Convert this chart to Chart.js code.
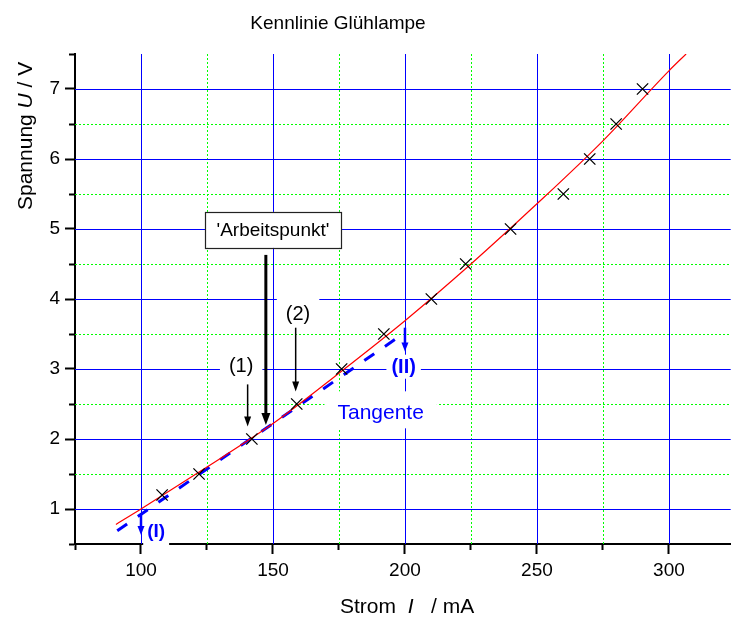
<!DOCTYPE html>
<html>
<head>
<meta charset="utf-8">
<title>Kennlinie Glühlampe</title>
<script src="https://cdn.jsdelivr.net/npm/chart.js@4.4.1/dist/chart.umd.min.js"></script>
<style>
  html, body { margin: 0; padding: 0; background: #fff; }
  #wrap { width: 740px; height: 617px; }
</style>
</head>
<body>
<div id="wrap"><canvas id="chart" width="740" height="617"></canvas></div>
<script>
// Messwerte: Strom I in mA, Spannung U in V
const stromMess = [108, 122, 142, 159, 176, 192, 210, 223, 240, 260, 270, 280, 290];
const spannungMess = [1.2, 1.5, 2.0, 2.5, 3.0, 3.5, 4.0, 4.5, 5.0, 5.5, 6.0, 6.5, 7.0];

// Ausgleichskurve (rot)
const stromFit = [90.5, 100, 125, 150, 175, 200, 225, 250, 275, 300, 306.5];
const spannungFit = [0.78, 1.0, 1.6, 2.22, 2.94, 3.69, 4.5, 5.36, 6.26, 7.26, 7.5];

// Tangente im Arbeitspunkt (blau gestrichelt)
const stromTangente = [91, 200];
const spannungTangente = [0.69, 3.52];

// Achsen
const xTickLabels = [100, 150, 200, 250, 300];
const yTickLabels = [1, 2, 3, 4, 5, 6, 7];
const X_MIN = 75, X_MAX = 323.4;
const Y_MIN = 0.5, Y_MAX = 7.5;

const BLUE = '#0000ff';
const GREEN = '#00ff00';
const FONT = '"Liberation Sans", Arial, sans-serif';

// Annotationen in Datenkoordinaten
const pfeile = [
  { x: 147.3, von: 4.63, bis: 2.20, farbe: '#000', breite: 3, spitze: 12, halb: 4.5 }, // Arbeitspunkt
  { x: 140.4, von: 2.78, bis: 2.18, farbe: '#000', breite: 1.5, spitze: 10, halb: 3.5 }, // (1)
  { x: 158.6, von: 3.59, bis: 2.68, farbe: '#000', breite: 1.5, spitze: 10, halb: 3.5 }, // (2)
  { x: 100, von: 0.93, bis: 0.63, farbe: BLUE, breite: 2.5, spitze: 9, halb: 3.5 },      // (I)
  { x: 200, von: 3.59, bis: 3.25, farbe: BLUE, breite: 2.5, spitze: 9, halb: 3.5 }       // (II)
];

const beschriftungen = [
  { text: '(1)', x: 137.95, y: 2.961, size: 20, bold: false, farbe: '#000', padX: 9, up: 20, down: 6 },
  { text: '(2)', x: 159.5, y: 3.707, size: 20, bold: false, farbe: '#000', padX: 9, up: 22, down: 6 },
  { text: '(II)', x: 199.5, y: 2.947, size: 20, bold: true, farbe: BLUE, padX: 5, up: 18, down: 6 },
  { text: '(I)', x: 105.75, y: 0.604, size: 19, bold: true, farbe: BLUE, padX: 4, up: 16, down: 9 },
  { text: 'Tangente', x: 190.8, y: 2.281, size: 21, bold: false, farbe: BLUE, padX: 13, up: 28, down: 9 }
];

const arbeitspunkt = { text: "'Arbeitspunkt'", x: 150.0, y: 4.90, size: 19, links: 124.3, rechts: 175.9, oben: 5.244, unten: 4.73 };

function font(size, opts) {
  opts = opts || {};
  return (opts.italic ? 'italic ' : '') + (opts.bold ? 'bold ' : '') + size + 'px ' + FONT;
}

function drawRuns(ctx, runs, x, y, size) {
  runs.forEach(r => {
    ctx.font = font(size, { italic: r.italic });
    ctx.fillText(r.t, x, y);
    x += ctx.measureText(r.t).width;
  });
}

// Gitter: blaue Hauptlinien, gruen gepunktete Zwischenlinien
const gitterPlugin = {
  id: 'gitter',
  beforeDatasetsDraw(chart) {
    const ctx = chart.ctx;
    const a = chart.chartArea;
    const sx = chart.scales.x, sy = chart.scales.y;
    ctx.save();
    ctx.lineWidth = 1;
    sx.ticks.forEach(t => {
      if (t.value <= X_MIN || t.value >= X_MAX) return;
      const major = xTickLabels.includes(t.value);
      const p = Math.round(sx.getPixelForValue(t.value)) + 0.5;
      ctx.strokeStyle = major ? BLUE : GREEN;
      ctx.setLineDash(major ? [] : [2, 2]);
      ctx.beginPath();
      ctx.moveTo(p, a.top);
      ctx.lineTo(p, a.bottom);
      ctx.stroke();
    });
    sy.ticks.forEach(t => {
      if (t.value <= Y_MIN || t.value >= Y_MAX) return;
      const major = yTickLabels.includes(t.value);
      const p = Math.round(sy.getPixelForValue(t.value)) + 0.5;
      ctx.strokeStyle = major ? BLUE : GREEN;
      ctx.setLineDash(major ? [] : [2, 2]);
      ctx.beginPath();
      ctx.moveTo(a.left, p);
      ctx.lineTo(a.right, p);
      ctx.stroke();
    });
    ctx.restore();
  }
};

const annotationPlugin = {
  id: 'kennlinieAnnotationen',
  afterDatasetsDraw(chart) {
    const ctx = chart.ctx;
    const X = v => chart.scales.x.getPixelForValue(v);
    const Y = v => chart.scales.y.getPixelForValue(v);
    ctx.save();

    // weisse Hintergruende der Beschriftungen
    ctx.fillStyle = '#fff';
    beschriftungen.forEach(b => {
      ctx.font = font(b.size, { bold: b.bold });
      const w = ctx.measureText(b.text).width;
      const cx = X(b.x), by = Y(b.y);
      ctx.fillRect(cx - w / 2 - b.padX, by - b.up, w + 2 * b.padX, b.up + b.down);
    });

    // Kasten 'Arbeitspunkt'
    const l = X(arbeitspunkt.links), r = X(arbeitspunkt.rechts);
    const t = Y(arbeitspunkt.oben), u = Y(arbeitspunkt.unten);
    ctx.fillStyle = '#fff';
    ctx.fillRect(l, t, r - l, u - t);
    ctx.strokeStyle = '#222';
    ctx.lineWidth = 1.2;
    ctx.strokeRect(Math.round(l) + 0.5, Math.round(t) + 0.5, Math.round(r - l), Math.round(u - t));
    ctx.fillStyle = '#000';
    ctx.font = font(arbeitspunkt.size);
    ctx.textAlign = 'center';
    ctx.textBaseline = 'alphabetic';
    ctx.fillText(arbeitspunkt.text, X(arbeitspunkt.x), Y(arbeitspunkt.y));

    // Pfeile
    pfeile.forEach(p => {
      const px = X(p.x), y1 = Y(p.von), y2 = Y(p.bis);
      ctx.strokeStyle = p.farbe;
      ctx.fillStyle = p.farbe;
      ctx.lineWidth = p.breite;
      ctx.beginPath();
      ctx.moveTo(px, y1);
      ctx.lineTo(px, y2 - p.spitze + 1);
      ctx.stroke();
      ctx.beginPath();
      ctx.moveTo(px, y2);
      ctx.lineTo(px - p.halb, y2 - p.spitze);
      ctx.lineTo(px + p.halb, y2 - p.spitze);
      ctx.closePath();
      ctx.fill();
    });

    // Texte
    beschriftungen.forEach(b => {
      ctx.font = font(b.size, { bold: b.bold });
      ctx.fillStyle = b.farbe;
      ctx.textAlign = 'center';
      ctx.fillText(b.text, X(b.x), Y(b.y));
    });

    // Titel
    ctx.fillStyle = '#000';
    ctx.textAlign = 'center';
    ctx.font = font(19);
    ctx.fillText('Kennlinie Glühlampe', 338, 29);

    // Achsentitel x
    ctx.textAlign = 'left';
    drawRuns(ctx, [{ t: 'Strom  ' }, { t: 'I', italic: true }, { t: '   / mA' }], 340, 613, 21);

    // Achsentitel y (gedreht)
    ctx.save();
    ctx.translate(32, 210);
    ctx.rotate(-Math.PI / 2);
    drawRuns(ctx, [{ t: 'Spannung ' }, { t: 'U', italic: true }, { t: ' / V' }], 0, 0, 21);
    ctx.restore();

    ctx.restore();
  }
};

const toPoints = (xs, ys) => xs.map((v, i) => ({ x: v, y: ys[i] }));

new Chart(document.getElementById('chart'), {
  type: 'scatter',
  data: {
    datasets: [
      {
        label: 'Messwerte',
        data: toPoints(stromMess, spannungMess),
        pointStyle: 'crossRot',
        pointRadius: 8,
        borderColor: '#000',
        backgroundColor: '#000',
        borderWidth: 1.3,
        order: 0
      },
      {
        label: 'Ausgleichskurve',
        data: toPoints(stromFit, spannungFit),
        showLine: true,
        cubicInterpolationMode: 'monotone',
        borderColor: '#ff0000',
        borderWidth: 1.2,
        pointRadius: 0,
        order: 1
      },
      {
        label: 'Tangente',
        data: toPoints(stromTangente, spannungTangente),
        showLine: true,
        borderColor: BLUE,
        borderWidth: 3,
        borderDash: [12, 13],
        pointRadius: 0,
        order: 2
      }
    ]
  },
  options: {
    responsive: false,
    animation: false,
    devicePixelRatio: 1,
    layout: { padding: { top: 54, left: 0, right: 0, bottom: 0 } },
    plugins: { legend: { display: false }, tooltip: { enabled: false }, title: { display: false } },
    scales: {
      x: {
        type: 'linear',
        min: X_MIN,
        max: X_MAX,
        afterFit: s => { s.height = 73; },
        ticks: {
          stepSize: 25,
          includeBounds: false,
          autoSkip: false,
          maxRotation: 0,
          padding: 5,
          color: '#000',
          font: { size: 19, family: FONT },
          callback: v => xTickLabels.includes(v) ? String(v) : ''
        },
        grid: {
          drawOnChartArea: false,
          tickLength: 10,
          tickWidth: 2,
          tickColor: '#000',
          tickBorderDash: ctx => (ctx.tick && xTickLabels.includes(ctx.tick.value)) ? [] : [5, 20]
        },
        border: { color: '#000', width: 2 }
      },
      y: {
        type: 'linear',
        min: Y_MIN,
        max: Y_MAX,
        afterFit: s => { s.width = 75; },
        ticks: {
          stepSize: 0.5,
          autoSkip: false,
          padding: 5,
          color: '#000',
          font: { size: 19, family: FONT },
          callback: v => yTickLabels.includes(v) ? String(v) : ''
        },
        grid: {
          drawOnChartArea: false,
          tickLength: 10,
          tickWidth: 2,
          tickColor: '#000',
          tickBorderDash: ctx => (ctx.tick && yTickLabels.includes(ctx.tick.value)) ? [] : [0, 4, 20]
        },
        border: { color: '#000', width: 2 }
      }
    }
  },
  plugins: [gitterPlugin, annotationPlugin]
});
</script>
</body>
</html>
